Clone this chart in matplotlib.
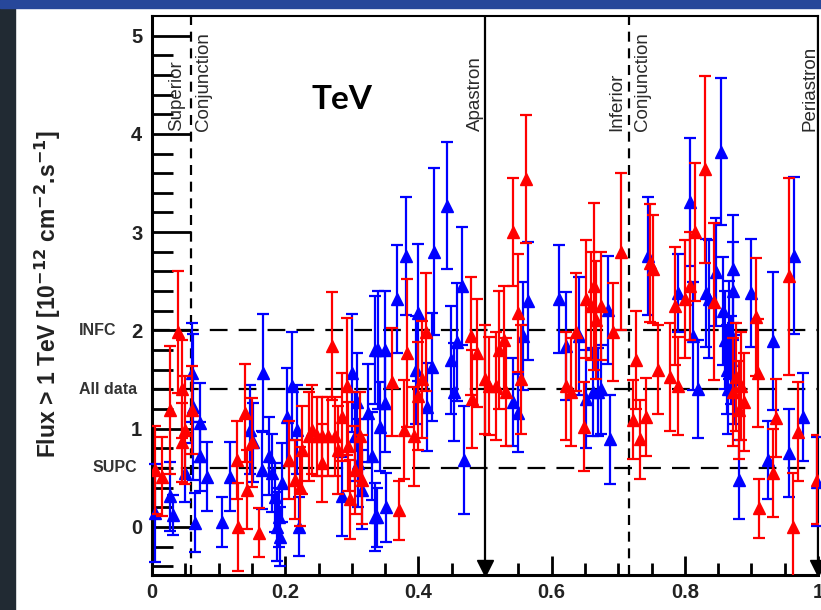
#%% TeV light curve vs orbital phase
# flux > 1 TeV, two data sets (blue / red), folded on orbital phase
import numpy as np
import matplotlib.pyplot as plt
from matplotlib.patches import Rectangle

plt.rcParams['font.family'] = ['Liberation Sans', 'DejaVu Sans']

#%% data (phase, flux, error)
blue_phase = [0.005, 0.027, 0.032, 0.050, 0.060, 0.062, 0.072, 0.072, 0.065, 0.082,
              0.105, 0.117, 0.147, 0.152, 0.167, 0.165, 0.175, 0.180, 0.185, 0.190,
              0.188, 0.192, 0.195, 0.203, 0.210, 0.218, 0.220, 0.285, 0.300, 0.305,
              0.308, 0.310, 0.315, 0.325, 0.330, 0.335, 0.335, 0.340, 0.343, 0.338,
              0.350, 0.350, 0.352, 0.368, 0.381, 0.396, 0.400, 0.413, 0.420, 0.423,
              0.443, 0.449, 0.453, 0.458, 0.465, 0.468, 0.542, 0.550, 0.557, 0.565,
              0.611, 0.622, 0.641, 0.652, 0.662, 0.670, 0.674, 0.685, 0.688, 0.745,
              0.790, 0.808, 0.812, 0.820, 0.832, 0.836, 0.847, 0.854, 0.857, 0.860,
              0.863, 0.866, 0.869, 0.872, 0.872, 0.875, 0.865, 0.882, 0.900, 0.925,
              0.933, 0.956, 0.964, 0.977, 0.998]
blue_flux = [0.14, 0.31, 0.12, 0.55, 1.57, 1.22, 1.06, 0.72, 0.04, 0.51,
             0.05, 0.51, 0.99, 0.86, 1.57, 0.58, 0.72, 0.55, 0.30, 0.10,
             0.00, -0.10, 0.45, 1.12, 1.43, 0.99, 0.00, 0.31, 1.57, 0.92,
             1.27, 0.65, 0.38, 1.16, 0.72, 1.80, 0.10, 1.80, 1.02, 0.10,
             1.80, 1.26, 0.20, 2.32, 2.76, 1.60, 2.18, 1.22, 1.63, 2.80,
             3.27, 1.70, 1.37, 1.88, 2.45, 0.68, 1.27, 1.16, 1.94, 2.30,
             2.32, 1.84, 1.94, 1.30, 1.37, 1.37, 1.40, 2.21, 0.89, 2.76,
             2.38, 3.31, 1.94, 1.40, 2.38, 2.32, 2.59, 3.82, 2.20, 1.90,
             1.60, 2.00, 1.70, 2.62, 2.40, 1.50, 1.40, 0.48, 2.38, 0.68,
             1.89, 0.75, 2.76, 1.12, 0.46]
blue_err = [0.50, 0.35, 0.20, 0.30, 0.50, 0.74, 0.40, 0.35, 0.30, 0.35,
            0.25, 0.35, 0.45, 0.40, 0.60, 0.40, 0.40, 0.40, 0.35, 0.30,
            0.35, 0.30, 0.40, 0.50, 0.55, 0.45, 0.30, 0.40, 0.60, 0.45,
            0.50, 0.45, 0.40, 0.50, 0.45, 0.55, 0.35, 0.60, 0.45, 0.30,
            0.60, 0.50, 0.35, 0.55, 0.60, 0.55, 0.70, 0.45, 0.55, 0.85,
            0.65, 0.55, 0.50, 0.60, 0.60, 0.55, 0.45, 0.40, 0.55, 0.60,
            0.55, 0.55, 0.60, 0.50, 0.45, 0.45, 0.45, 0.55, 0.45, 0.60,
            0.40, 0.65, 0.55, 0.50, 0.55, 0.60, 0.55, 0.75, 0.55, 0.50,
            0.45, 0.50, 0.45, 0.55, 0.50, 0.45, 0.45, 0.40, 0.55, 0.40,
            0.70, 0.45, 0.80, 0.45, 0.45]

red_phase = [0.005, 0.015, 0.027, 0.039, 0.045, 0.045, 0.050, 0.060, 0.127, 0.129,
             0.140, 0.142, 0.150, 0.160, 0.205, 0.215, 0.222, 0.225, 0.235, 0.240,
             0.248, 0.255, 0.255, 0.265, 0.270, 0.275, 0.280, 0.285, 0.293, 0.295,
             0.298, 0.305, 0.312, 0.315, 0.360, 0.371, 0.378, 0.383, 0.393, 0.400,
             0.405, 0.411, 0.479, 0.480, 0.488, 0.500, 0.506, 0.516, 0.521, 0.529,
             0.532, 0.542, 0.550, 0.554, 0.562, 0.622, 0.629, 0.637, 0.649, 0.652,
             0.659, 0.664, 0.667, 0.674, 0.692, 0.704, 0.722, 0.727, 0.733, 0.742,
             0.748, 0.752, 0.760, 0.778, 0.785, 0.790, 0.800, 0.808, 0.815, 0.830,
             0.844, 0.872, 0.877, 0.882, 0.885, 0.889, 0.907, 0.910, 0.911, 0.933,
             0.937, 0.956, 0.962, 0.970, 0.999]
red_flux = [0.58, 0.51, 1.19, 1.98, 1.40, 0.86, 0.99, 1.19, 0.68, 0.00,
            1.16, 0.38, 0.86, -0.06, 0.68, 0.48, 0.41, 0.78, 0.92, 0.99,
            0.92, 0.92, 0.65, 0.92, 1.84, 0.92, 0.78, 1.12, 1.43, 0.82,
            0.28, 0.58, 0.92, 0.48, 1.47, 0.17, 0.99, 1.77, 0.92, 1.33,
            1.50, 1.98, 1.94, 1.30, 1.77, 1.50, 1.43, 1.43, 1.80, 1.90,
            1.37, 3.00, 2.18, 1.50, 3.54, 1.43, 1.37, 1.98, 1.02, 2.32,
            2.25, 2.45, 2.11, 2.25, 1.98, 2.80, 1.09, 1.70, 0.89, 1.12,
            2.69, 2.62, 1.60, 1.53, 2.25, 1.43, 2.32, 2.45, 3.00, 3.64,
            2.29, 1.37, 1.53, 1.19, 1.43, 1.27, 2.14, 1.57, 0.19, 0.55,
            1.11, 2.55, 0.00, 0.97, 0.48]
red_err = [0.45, 0.40, 0.65, 0.62, 0.50, 0.40, 0.55, 0.45, 0.40, 0.45,
           0.50, 0.40, 0.45, 0.25, 0.40, 0.40, 0.40, 0.45, 0.45, 0.45,
           0.40, 0.40, 0.40, 0.40, 0.55, 0.40, 0.45, 0.45, 0.70, 0.45,
           0.40, 0.45, 0.45, 0.45, 0.55, 0.30, 0.50, 0.75, 0.50, 0.55,
           0.60, 0.60, 0.60, 0.50, 0.55, 0.55, 0.50, 0.55, 0.60, 0.55,
           0.55, 0.55, 0.60, 0.55, 0.65, 0.55, 0.55, 0.60, 0.45, 0.60,
           0.55, 0.85, 0.60, 0.55, 0.50, 0.80, 0.40, 0.50, 0.40, 0.40,
           0.60, 0.55, 0.45, 0.55, 0.60, 0.50, 0.60, 0.55, 0.70, 0.95,
           0.80, 0.55, 0.55, 0.50, 0.55, 0.50, 0.60, 0.55, 0.30, 0.45,
           0.40, 1.00, 0.55, 0.50, 0.45]

# mean flux levels (INFC, all data, SUPC) and orbital markers
level_names = ['INFC', 'All data', 'SUPC']
level_flux = [2.0, 1.4, 0.6]
sup_conj = 0.058
inf_conj = 0.716
apastron = 0.5
periastron = 1.0

#%% figure + slide background
fig = plt.figure(figsize=(8.21, 6.10), dpi=100)
fig.patch.set_facecolor('white')
fig.add_artist(Rectangle((0, 0), 15/821, 1, transform=fig.transFigure, color='#212a33', zorder=0))
fig.add_artist(Rectangle((0, 1 - 8/610), 1, 8/610, transform=fig.transFigure, color='#27479a', zorder=0))

ax = fig.add_axes([152/821, 1 - 575/610, 666/821, 559/610])
ax.set_xlim(0, 1)
ax.set_ylim(-0.49, 5.2)

#%% reference lines
for yl in level_flux:
    ax.axhline(yl, color='black', lw=1.6, ls=(0, (8, 5)), zorder=1)
ax.axvline(sup_conj, color='black', lw=1.6, ls=(0, (4.5, 3)), zorder=1)
ax.axvline(inf_conj, color='black', lw=1.6, ls=(0, (4.5, 3)), zorder=1)
ax.axvline(apastron, color='black', lw=1.6, zorder=1)
ax.axvline(periastron, color='black', lw=1.6, zorder=1)

#%% data
ax.errorbar(blue_phase, blue_flux, yerr=blue_err, fmt='^', color='#0000ff', ms=8,
            elinewidth=1.6, capsize=4, capthick=1.6, zorder=3, clip_on=False)
ax.errorbar(red_phase, red_flux, yerr=red_err, fmt='^', color='#ff0000', ms=8,
            elinewidth=1.6, capsize=4, capthick=1.6, zorder=4, clip_on=True)

# downward markers at apastron / periastron
ax.plot([apastron, periastron], [-0.42, -0.42], 'v', color='black', ms=12, zorder=5, clip_on=False)

#%% ticks
ax.set_xticks(np.arange(0, 1.01, 0.2))
ax.set_xticklabels(['0', '0.2', '0.4', '0.6', '0.8', '1'])
ax.set_xticks(np.arange(0, 1.01, 0.05), minor=True)
ax.set_yticks(np.arange(0, 5.1, 1))
ax.set_yticks(np.arange(-0.4, 5.2, 0.2), minor=True)
ax.tick_params(axis='both', which='major', direction='in', width=2, labelsize=14.5, colors='black')
ax.tick_params(axis='y', which='major', length=28, pad=7)
ax.tick_params(axis='y', which='minor', direction='in', length=15, width=2)
ax.tick_params(axis='x', which='major', length=14, pad=6)
ax.tick_params(axis='x', which='minor', direction='in', length=9, width=2)
for lab in ax.get_xticklabels() + ax.get_yticklabels():
    lab.set_fontweight('bold')
    lab.set_color('#222222')
for side in ['left', 'bottom']:
    ax.spines[side].set_linewidth(2.2)
for side in ['top', 'right']:
    ax.spines[side].set_linewidth(1.5)

# level names next to the y tick labels
trans = ax.get_yaxis_transform()
ax.text(-0.053, level_flux[0], level_names[0], transform=trans, ha='right', va='center',
        fontsize=11.5, fontweight='bold', color='#333333')
ax.text(-0.023, level_flux[1], level_names[1], transform=trans, ha='right', va='center',
        fontsize=11.5, fontweight='bold', color='#333333')
ax.text(-0.023, level_flux[2], level_names[2], transform=trans, ha='right', va='center',
        fontsize=11.5, fontweight='bold', color='#333333')

# orbital phase labels (vertical)
kw = dict(rotation=90, ha='center', va='bottom', fontsize=13.5, color='#2a2a2a')
ax.text(sup_conj - 0.0205, 4.03, 'Superior', **kw)
ax.text(sup_conj + 0.0186, 4.03, 'Conjunction', **kw)
ax.text(apastron - 0.015, 4.03, 'Apastron', **kw)
ax.text(inf_conj - 0.018, 4.03, 'Inferior', **kw)
ax.text(inf_conj + 0.020, 4.03, 'Conjunction', **kw)
ax.text(periastron - 0.012, 4.03, 'Periastron', **kw)

# title text on the slide
ax.text(0.285, 4.35, 'TeV', ha='center', va='center', fontsize=24, fontweight='bold',
        family=['Lato', 'DejaVu Sans'], color='black')

fig.text(48/821, 1 - 294/610, r'Flux > 1 TeV [10$^{\mathbf{-12}}$ cm$^{\mathbf{-2}}$.s$^{\mathbf{-1}}$]',
         rotation=90, ha='center', va='center', fontsize=16.5, fontweight='bold', color='#222222')

plt.savefig('out.png', dpi=100)
plt.close()
